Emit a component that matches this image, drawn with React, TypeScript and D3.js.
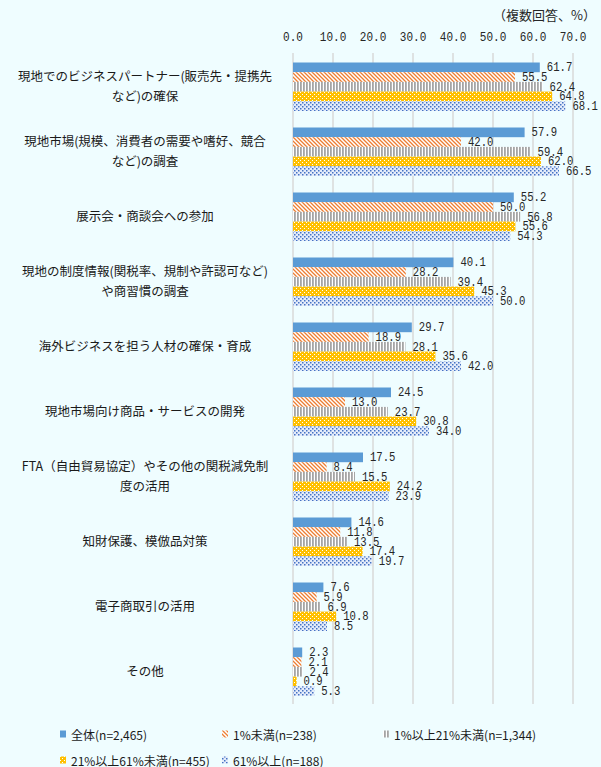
import React from "react";
import * as d3 from "d3";

const categories: string[][] = [
  ["現地でのビジネスパートナー(販売先・提携先", "など)の確保"],
  ["現地市場(規模、消費者の需要や嗜好、競合", "など)の調査"],
  ["展示会・商談会への参加"],
  ["現地の制度情報(関税率、規制や許認可など)", "や商習慣の調査"],
  ["海外ビジネスを担う人材の確保・育成"],
  ["現地市場向け商品・サービスの開発"],
  ["FTA（自由貿易協定）やその他の関税減免制", "度の活用"],
  ["知財保護、模倣品対策"],
  ["電子商取引の活用"],
  ["その他"],
];

const seriesNames = [
  "全体(n=2,465)",
  "1%未満(n=238)",
  "1%以上21%未満(n=1,344)",
  "21%以上61%未満(n=455)",
  "61%以上(n=188)",
];

const sAll = [61.7, 57.9, 55.2, 40.1, 29.7, 24.5, 17.5, 14.6, 7.6, 2.3];
const sLt1 = [55.5, 42.0, 50.0, 28.2, 18.9, 13.0, 8.4, 11.8, 5.9, 2.1];
const s1to21 = [62.4, 59.4, 56.8, 39.4, 28.1, 23.7, 15.5, 13.5, 6.9, 2.4];
const s21to61 = [64.8, 62.0, 55.6, 45.3, 35.6, 30.8, 24.2, 17.4, 10.8, 0.9];
const s61plus = [68.1, 66.5, 54.3, 50.0, 42.0, 34.0, 23.9, 19.7, 8.5, 5.3];

const seriesValues = [sAll, sLt1, s1to21, s21to61, s61plus];
const ticks = [0, 10, 20, 30, 40, 50, 60, 70];

const fills = ["#5B9BD5", "url(#pOrange)", "url(#pGray)", "url(#pGold)", "url(#pBlue)"];

export default function App() {
  const W = 601, H = 767;
  const x = d3.scaleLinear().domain([0, 70]).range([293, 573]);
  const idx = categories.map((_, i) => String(i));
  const y = d3.scaleBand().domain(idx).range([53, 703]);
  const sub = d3.scaleBand().domain(seriesNames).range([9.5, 58]);
  const monoFont = "'Liberation Mono', 'DejaVu Sans Mono', monospace";
  const jpFont = "'Noto Sans CJK JP', sans-serif";

  const legendPos = [
    { x: 63, y: 734 },
    { x: 225, y: 734 },
    { x: 386, y: 734 },
    { x: 63, y: 760 },
    { x: 225, y: 760 },
  ];

  return (
    <svg width={W} height={H} style={{ position: "absolute", left: 0, top: 0 }}>
      <defs>
        <pattern id="pOrange" width="4" height="4" patternUnits="userSpaceOnUse">
          <rect width="4" height="4" fill="#FFFFFF" />
          <path d="M-1,-1 L5,5 M-1,3 L1,5 M3,-1 L5,1" stroke="#ED7D31" strokeWidth="1.3" />
        </pattern>
        <pattern id="pGray" width="3" height="3" patternUnits="userSpaceOnUse">
          <rect width="3" height="3" fill="#FFFFFF" />
          <rect width="1.8" height="3" fill="#A5A5A5" />
        </pattern>
        <pattern id="pGold" width="4" height="4" patternUnits="userSpaceOnUse">
          <rect width="4" height="4" fill="#FFC000" />
          <rect x="0" y="0" width="1" height="1" fill="#FFFFFF" />
          <rect x="2" y="2" width="1" height="1" fill="#FFFFFF" />
        </pattern>
        <pattern id="pBlue" width="4" height="4" patternUnits="userSpaceOnUse">
          <rect width="4" height="4" fill="#E4ECFA" />
          <rect x="0" y="0" width="1.5" height="1.5" fill="#4472C4" />
          <rect x="2" y="2" width="1.5" height="1.5" fill="#4472C4" />
        </pattern>
      </defs>
      <rect width={W} height={H} fill="#EFFDFF" />

      <text x={596} y={20} textAnchor="end" fontFamily={jpFont} fontSize={13} fill="#262626">
        （複数回答、%）
      </text>

      {ticks.map((t) => (
        <g key={t}>
          <line x1={x(t)} x2={x(t)} y1={53} y2={704} stroke="#D9D9D9" strokeWidth={1.5} />
          <text
            transform={`translate(${x(t)},38) scale(0.85,1)`}
            textAnchor="middle"
            dominantBaseline="central"
            fontFamily={monoFont}
            fontSize={13}
            fill="#262626"
          >
            {t.toFixed(1)}
          </text>
        </g>
      ))}

      {categories.map((lines, ci) => {
        const y0 = y(String(ci))!;
        const cy = y0 + y.bandwidth() / 2;
        return (
          <g key={ci}>
            {lines.map((ln, li) => (
              <text
                key={li}
                x={145}
                y={cy + (li - (lines.length - 1) / 2) * 20}
                textAnchor="middle"
                dominantBaseline="central"
                fontFamily={jpFont}
                fontSize={12.5}
                fill="#1a1a1a"
              >
                {ln}
              </text>
            ))}
            {seriesNames.map((s, si) => {
              const v = seriesValues[si][ci];
              const by = y0 + sub(s)!;
              const bh = sub.bandwidth();
              return (
                <g key={s}>
                  <rect x={x(0)} y={by} width={x(v) - x(0)} height={bh} fill={fills[si]} />
                  <text
                    transform={`translate(${x(v) + 7},${by + bh / 2}) scale(0.85,1)`}
                    dominantBaseline="central"
                    fontFamily={monoFont}
                    fontSize={12.5}
                    fill="#262626"
                  >
                    {v.toFixed(1)}
                  </text>
                </g>
              );
            })}
          </g>
        );
      })}

      {seriesNames.map((s, si) => (
        <g key={s}>
          <rect x={legendPos[si].x - 3} y={legendPos[si].y - 3.5} width={6} height={7} fill={fills[si]} />
          <text
            x={legendPos[si].x + 8}
            y={legendPos[si].y}
            dominantBaseline="central"
            fontFamily={jpFont}
            fontSize={12}
            fill="#1a1a1a"
          >
            {s}
          </text>
        </g>
      ))}
    </svg>
  );
}
